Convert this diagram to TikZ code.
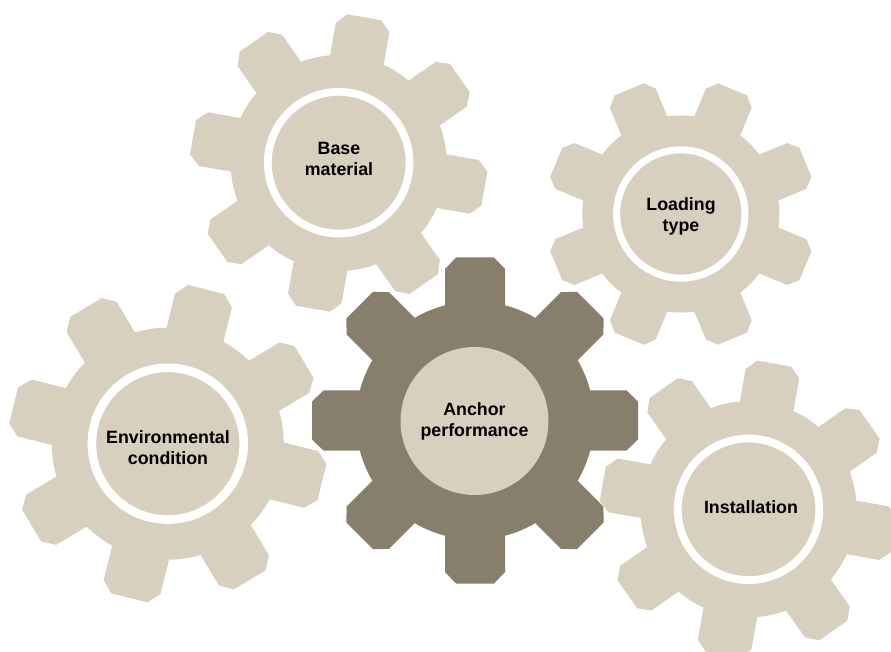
\documentclass[tikz,border=0pt]{standalone}
\usepackage{fontspec}
\setmainfont{Liberation Sans}
\definecolor{gearlight}{HTML}{D7D0BE}
\definecolor{geardark}{HTML}{877F6C}
\tikzset{
  x=1pt,y=1pt,
  hubdisc/.style={circle,inner sep=0pt,outer sep=0pt,fill=gearlight},
  geartext/.style={inner sep=0pt,align=center,text=black,font=\fontsize{17.8}{21}\selectfont\bfseries}
}
% #1 cx, #2 cy (pixels, y down), #3 body radius, #4 rotation, #5 colour
\newcommand{\gearbody}[5]{%
  \pgfmathsetmacro{\gs}{#3/119}%
  \begin{scope}[shift={(#1,651-#2)},rotate=#4,scale=\gs]
    \fill[#5] (0,0) circle (119);
    \foreach \ga in {0,45,...,315}{
      \fill[#5,rotate=\ga] (-30,100) -- (-30,151.5) -- (-19,163) -- (19,163) -- (30,151.5) -- (30,100) -- cycle;
    }
  \end{scope}%
}
\begin{document}
\begin{tikzpicture}
\useasboundingbox (0,0) rectangle (891,651);
\fill[white] (0,0) rectangle (891,651);
% gears
\gearbody{338.7}{163}{108}{-10}{gearlight}
\gearbody{680.8}{214}{98.5}{22.5}{gearlight}
\gearbody{167.8}{443.7}{116}{-14}{gearlight}
\gearbody{748.5}{509.3}{108}{-10}{gearlight}
\gearbody{475}{420.5}{119}{0}{geardark}
% hubs
\node[hubdisc,draw=white,line width=7.7pt,minimum size=141.7pt] (basehub) at (338.7,651-162.7) {};
\node[hubdisc,draw=white,line width=7pt,minimum size=128.3pt] (loadhub) at (680.8,651-214) {};
\node[hubdisc,draw=white,line width=8.6pt,minimum size=151.8pt] (envhub) at (167.8,651-443.7) {};
\node[hubdisc,draw=white,line width=7.8pt,minimum size=141.6pt] (insthub) at (748.5,651-509.3) {};
\node[hubdisc,minimum size=148pt] (anchorhub) at (474.5,651-421) {};
% labels
\node[geartext] (baselabel) at (339,651-158.5) {Base\\material};
\node[geartext] (loadlabel) at (681,651-216.5) {Loading\\type};
\node[geartext] (envlabel) at (168,651-448) {Environmental\\condition};
\node[geartext] (instlabel) at (751,651-507) {Installation};
\node[geartext] (anchorlabel) at (474.5,651-421.5) {Anchor\\performance};
\end{tikzpicture}
\end{document}
